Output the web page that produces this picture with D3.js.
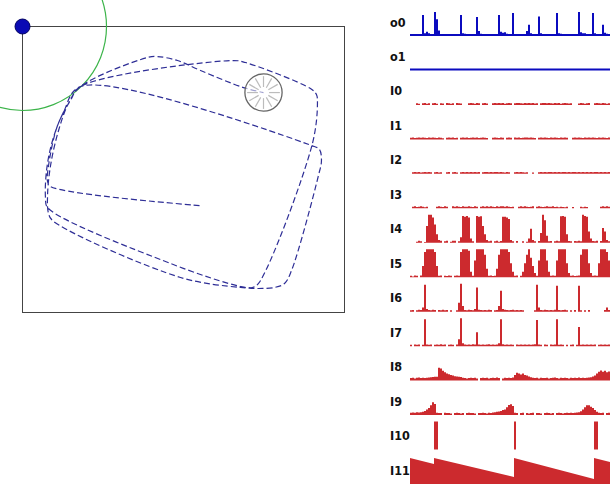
<!DOCTYPE html>
<html>
<head>
<meta charset="utf-8">
<script src="https://cdn.jsdelivr.net/npm/d3@7"></script>
<style>
  body { margin: 0; background: #fff; }
  svg { display: block; }
  .lbl { font-family: 'DejaVu Sans Condensed', 'DejaVu Sans', sans-serif; font-stretch: condensed; font-weight: bold; font-size: 12.5px; fill: #111; }
</style>
</head>
<body>
<svg id="chart" width="611" height="485"></svg>
<script>
// arena size (world units) and home radius around the corner beacon
const arenaW = 225, arenaH = 200;
const homeRadius = 58.7;
const robotRadius = 13;

// robot track, world units (x right, y up)
const track = [
  [123.7, 74.8], [19.6, 88.1], [17.5, 91.6], [18.2, 102.8], [24.5, 130.8], [33.5, 148.3], [40.5, 158.0],
  // lap 1
  [147.4, 176.2], [155.8, 174.8], [201.2, 156.6], [205.4, 152.4], [206.1, 146.9], [202.6, 118.2],
  [164.9, 20.3], [160.6, 17.5], [152.3, 18.2], [103.4, 34.3], [17.5, 73.4], [16.1, 79.7],
  [16.8, 99.3], [21.0, 120.3], [28.6, 139.9], [40.5, 158.0],
  // lap 2
  [201.9, 116.8], [207.5, 114.0], [208.9, 106.3], [206.8, 95.8], [188.0, 29.4], [183.1, 20.3],
  [176.1, 17.5], [164.9, 16.8], [152.3, 17.5], [110.4, 24.5], [21.0, 64.3], [18.2, 69.2],
  [17.5, 81.8], [19.6, 102.8], [25.2, 127.3], [32.1, 146.2], [40.5, 158.0],
  // lap 3
  [87.3, 178.3], [94.3, 179.0], [108.3, 176.2], [124.4, 169.2], [154.4, 157.3], [168.4, 153.8]
];

const rows = ["o0", "o1", "I0", "I1", "I2", "I3", "I4", "I5", "I6", "I7", "I8", "I9", "I10", "I11"];

const o0 = [
  0, 0, 0, 0, 0, 0, 7.5, 1, 1.5, 1,
  .5, .5, 8.6, 6, 2, .5, 0, 0, 0, 0,
  0, 0, 0, 0, 0, 7.5, 1, .8, .7, 0,
  0, 0, 0, 6.8, 1.8, .8, .7, .5, 0, 0,
  0, 0, 0, 0, 7.5, 1.5, 1.2, 1.3, .8, 0,
  0, 8.2, .6, 0, 0, 0, 0, 0, 1.8, 4,
  1, 0, 0, 0, 7, 1, .6, 0, 0, 0,
  0, 0, 0, 8.2, 1, .8, .5, 0, 0, 0,
  0, 0, 0, 0, 8.6, 1.3, 1, 1, .5, 0,
  0, 8.2, 1, .6, 0, 0, 4, 1.2, .8, .6
];
const o1 = [
  0, 0, 0, 0, 0, 0, 0, 0, 0, 0,
  0, 0, 0, 0, 0, 0, 0, 0, 0, 0,
  0, 0, 0, 0, 0, 0, 0, 0, 0, 0,
  0, 0, 0, 0, 0, 0, 0, 0, 0, 0,
  0, 0, 0, 0, 0, 0, 0, 0, 0, 0,
  0, 0, 0, 0, 0, 0, 0, 0, 0, 0,
  0, 0, 0, 0, 0, 0, 0, 0, 0, 0,
  0, 0, 0, 0, 0, 0, 0, 0, 0, 0,
  0, 0, 0, 0, 0, 0, 0, 0, 0, 0,
  0, 0, 0, 0, 0, 0, 0, 0, 0, 0
];
const I0 = [
  0, 0, 0, .6, .4, 0, .6, .7, .4, .6,
  0, .6, .7, .4, 0, .6, .5, 0, .7, .6,
  .4, .6, 0, .7, .6, .5, 0, 0, 0, .6,
  .7, .6, .4, .7, .6, 0, .6, .7, .5, 0,
  0, .6, .7, .6, .7, .6, .7, .4, .6, .7,
  .6, 0, .6, .7, .7, .6, .5, .7, .6, .7,
  .6, .7, .5, .6, 0, .6, .7, .7, .6, .7,
  .6, .5, .7, .6, .7, .4, .6, .7, .6, .5,
  .6, 0, 0, 0, .5, .7, .6, .4, .6, .7,
  0, 0, .6, .7, .6, .5, .7, .6, .4, .6
];
const I1 = [
  .6, .7, .5, .6, .7, .6, .7, .6, .5, .7,
  .6, .7, .6, .5, .7, .6, .4, 0, .6, .7,
  .6, .7, .5, .6, 0, .6, .7, .6, .7, .5,
  .6, .7, .6, .7, .5, .6, .7, .6, .5, 0,
  0, .6, .7, .6, .5, .7, .6, 0, .6, .7,
  .6, 0, .7, .6, .7, .5, .6, .7, .7, .6,
  .7, .6, .5, 0, .6, .7, .6, .7, .6, .5,
  .7, .6, .7, .6, .5, .7, .6, .7, .6, 0,
  0, .6, .7, .6, .7, .6, .5, .7, .6, .7,
  .6, .7, .6, .5, .7, .6, .7, .6, .5, .7
];
const I2 = [
  0, .6, .7, .6, .7, .5, .6, .7, .6, .7,
  .6, 0, .6, .7, .5, .6, 0, 0, .6, .7,
  0, .6, .7, .5, 0, .6, .7, .6, .7, .6,
  .7, .6, .7, .6, .7, 0, .6, .7, .7, .6,
  .7, .6, .7, .7, .6, .7, .6, .5, .7, .6,
  0, 0, .6, .7, .6, .7, .6, .5, .6, 0,
  0, .5, 0, 0, .6, .7, .6, .7, .6, .7,
  .7, .6, .7, .6, .7, .6, .7, .7, .6, .7,
  .6, .7, .7, .6, .7, .6, .7, .6, .7, .6,
  .7, .6, .7, .7, .6, .7, .6, .7, .6, .7
];
const I3 = [
  0, .6, .7, .5, .6, .7, .6, .4, .6, 0,
  0, 0, 0, .6, .7, .6, .5, .7, .6, 0,
  0, .7, .6, .7, .6, .5, .7, .6, .6, .7,
  .6, .5, .7, .6, 0, .6, .7, .6, .7, .6,
  .7, .6, .5, .7, .6, .7, .7, .6, .7, .6,
  .5, .6, 0, 0, .6, .7, .6, .7, .6, .5,
  .6, .7, 0, .6, .7, .6, .5, .6, .7, .6,
  .6, .7, .5, .6, .4, .6, .5, .4, .6, 0,
  0, .5, 0, 0, 0, .6, .4, .6, .5, 0,
  0, 0, 0, 0, 0, .6, .7, .6, .7, .6
];
const I4 = [
  0, 0, 0, .4, .7, .5, 0, .3, 6, 10,
  10, 9, 6.5, 3, 1, .7, 0, .5, .7, 0,
  .4, .7, .7, 0, .5, 2, 9.6, 9.3, 9.6, 9,
  1.5, .5, 0, 9.6, 9.3, 9.5, 6, 3, 1, .5,
  .7, 0, .5, .7, .4, .6, 9.3, 9.3, 9, 8.5,
  1, .5, 0, .6, 0, 0, .5, 0, .4, 1.5,
  5, 1, .5, 0, .6, 3.5, 10, 8, 2.5, .5,
  .6, 0, .5, .7, .5, 9.5, 9.6, 9.3, 3, .6,
  .5, 0, .6, .5, .7, .5, 10, 9.6, 9.3, 4,
  1.5, .6, .5, .7, 0, .6, 5.3, 4, 1, .5
];
const I5 = [
  .5, .3, .6, .5, 0, .6, 4, 9, 10, 10,
  10, 10, 9, 4, .5, .6, 0, .5, .4, .6,
  .5, 0, .5, .6, .5, 9, 10, 10, 10, 9.5,
  2, .5, 6, 10, 10, 10, 10, 8, 3, .5,
  .6, .4, .5, 3, 8, 10, 10, 10, 10, 9,
  5, 2, .5, .6, 0, .5, 2, 5, 8, 10,
  7, 4, 1.5, .5, 6, 10, 10, 10, 6, 2,
  .5, .6, .5, 6, 10, 10, 10, 10, 5, 1.5,
  .5, .6, .4, .5, .6, 8, 10, 10, 10, 5,
  1.5, .5, .6, .5, 5, 10, 10, 10, 9, 6
];
const I6 = [
  .5, .6, 0, .5, .7, .6, 1.5, 9.6, 1, .6,
  .5, .7, .6, 0, .6, .5, .7, .5, .6, 0,
  .5, 0, 0, .5, 3.2, 10, 2, .6, .5, .7,
  .6, .5, 1, 8.6, .7, .6, .5, .6, .5, .7,
  .6, 0, .5, .6, 2, 7.5, 1, .7, .6, .5,
  .6, .7, .5, .6, .5, .6, .5, 0, 0, 0,
  0, 0, .5, 9.6, 1.5, .6, .5, .7, .6, .5,
  .6, .5, .7, 9.3, .6, .5, .6, .7, .5, 0,
  .5, 0, .6, 0, 9.3, .5, 0, .5, 0, .6,
  0, 0, 0, 0, 0, 0, 0, .6, 1.5, .6
];
const I7 = [
  .5, 0, .6, .5, .6, 0, .5, 9.6, .6, .5,
  .6, 0, .5, .6, .5, .7, .5, .6, 0, .5,
  .6, .5, 0, .6, 2.5, 10, 1, .6, .5, .6,
  .5, .7, .6, 5, .6, .5, .6, .5, .6, .7,
  .5, .6, .5, .6, 1, 9.6, .7, .5, .6, .5,
  .6, .5, 0, .6, .5, .6, .5, .6, .5, .6,
  .5, .6, .7, 9.3, .6, .5, 0, .6, .5, 0,
  .6, .5, .6, 9.6, .5, .6, .5, 0, .5, 0,
  .5, .6, 0, .5, 6.8, .5, .6, .5, .6, .5,
  .6, .5, .6, 0, .5, .6, .5, .6, .5, .6
];
const I8 = [
  .9, 1, .8, 1, 1.1, .9, 1, .9, 1, 1.1,
  1.2, 1.3, 1.4, 1.4, 4.6, 4.3, 3.5, 3, 2.5, 2.3,
  2, 1.8, 1.6, 1.5, 1.4, 1.3, 1, .9, .8, .9,
  1, .9, 1, .8, 0, .9, 1, .9, 1, .8,
  .9, 1, .9, 1.1, .9, 0, .8, 1, .9, 1,
  .9, 1.1, 2, 2.8, 2.5, 2.2, 2.5, 2, 1.8, 1.5,
  1.2, 1, .9, 1, .8, 1, .9, .9, 1, .8,
  .9, 1, 1.1, .9, .8, 1, .9, 1, .9, .8,
  1, .9, 1, .9, 1.1, .9, 1, .9, 1, 1.1,
  1.2, 1.5, 1.8, 2.5, 3.2, 3.6, 3.2, 3.5, 3, 3.3
];
const I9 = [
  .8, .9, .8, 1, .9, 1, 1.2, 1.5, 2, 2.5,
  3.5, 4.6, 4, .8, .7, .7, 0, .8, .7, .7,
  .6, 0, .7, .8, .7, .6, .7, 0, .7, .8,
  .7, .7, .6, 0, .7, .7, .8, .7, .6, .8,
  .7, .9, 1, 1.2, 1.3, 1.5, 1.8, 2, 2.8, 3.6,
  3.9, 3.2, .8, .7, 0, .7, .8, 0, .7, .6,
  .7, .8, 0, .7, .7, .6, 0, .7, .8, .7,
  .6, .7, 0, .7, .8, .7, .6, .7, .8, .7,
  .8, .7, .8, .9, 1, 1.4, 2, 2.8, 3.5, 3.5,
  3, 2.5, 1.8, 1.2, .8, .7, .8, 0, .7, .8
];
const I10 = [
  0, 0, 0, 0, 0, 0, 0, 0, 0, 0,
  0, 0, 10, 10, 0, 0, 0, 0, 0, 0,
  0, 0, 0, 0, 0, 0, 0, 0, 0, 0,
  0, 0, 0, 0, 0, 0, 0, 0, 0, 0,
  0, 0, 0, 0, 0, 0, 0, 0, 0, 0,
  0, 0, 10, 0, 0, 0, 0, 0, 0, 0,
  0, 0, 0, 0, 0, 0, 0, 0, 0, 0,
  0, 0, 0, 0, 0, 0, 0, 0, 0, 0,
  0, 0, 0, 0, 0, 0, 0, 0, 0, 0,
  0, 0, 10, 10, 0, 0, 0, 0, 0, 0
];
// sawtooth: [sample, value] corners
const I11 = [[0, 9.3], [12, 7.1], [12, 9.3], [52, 2.5], [52, 9.3], [92, 1.8], [92, 9.3], [100, 7.9]];

const series = { o0, o1, I0, I1, I2, I3, I4, I5, I6, I7, I8, I9, I10, I11 };

const blue = "#0b0bbf", red = "#cc2a2e";
const svg = d3.select("#chart");

// ---- arena ----
const wx = d3.scaleLinear().domain([0, arenaW]).range([22.5, 344.5]);
const wy = d3.scaleLinear().domain([0, arenaH]).range([312.5, 26.5]);

svg.append("rect")
  .attr("x", wx(0)).attr("y", wy(arenaH))
  .attr("width", wx(arenaW) - wx(0)).attr("height", wy(0) - wy(arenaH))
  .attr("fill", "#fff").attr("stroke", "#444").attr("stroke-width", 1);

// home circle round the beacon
svg.append("circle")
  .attr("cx", wx(0)).attr("cy", wy(arenaH))
  .attr("r", wx(homeRadius) - wx(0))
  .attr("fill", "none").attr("stroke", "#3cb44a").attr("stroke-width", 1.2);

// track
const trackLine = d3.line()
  .x(d => wx(d[0])).y(d => wy(d[1]))
  .curve(d3.curveCatmullRom.alpha(0.5));

svg.append("path")
  .attr("d", trackLine(track))
  .attr("fill", "none")
  .attr("stroke", "#2e2e96")
  .attr("stroke-width", 1.2)
  .attr("stroke-dasharray", "6,3");

// robot at the last track point
const pos = track[track.length - 1];
const rr = wx(robotRadius) - wx(0);
const robot = svg.append("g").attr("transform", `translate(${wx(pos[0])},${wy(pos[1])})`);
robot.append("circle").attr("r", rr).attr("fill", "rgba(255,255,255,0.55)")
  .attr("stroke", "#666").attr("stroke-width", 1.3);
robot.selectAll("line.spoke")
  .data(d3.range(12))
  .enter()
  .append("line")
    .attr("class", "spoke")
    .attr("x1", d => Math.cos(d * Math.PI / 6) * rr * 0.3)
    .attr("y1", d => Math.sin(d * Math.PI / 6) * rr * 0.3)
    .attr("x2", d => Math.cos(d * Math.PI / 6) * rr * 0.88)
    .attr("y2", d => Math.sin(d * Math.PI / 6) * rr * 0.88)
    .attr("stroke", "#bcbcbc").attr("stroke-width", 1.2);

// beacon
svg.append("circle")
  .attr("cx", wx(0)).attr("cy", wy(arenaH)).attr("r", 7.5)
  .attr("fill", "#0a0ab4").attr("stroke", "#000060").attr("stroke-width", 1);

// ---- traces ----
const rowY = d3.scalePoint().domain(rows).range([22, 470]);
const tx = d3.scaleLinear().domain([0, 100]).range([410, 610]);

rows.forEach(name => {
  const base = rowY(name) + 14;
  const ty = d3.scaleLinear().domain([0, 10]).range([base, base - 28]);
  const col = name[0] === "o" ? blue : red;
  const vals = series[name];

  svg.append("text")
    .attr("class", "lbl")
    .attr("x", 390).attr("y", rowY(name)).attr("dy", "0.36em")
    .text(name);

  let pts, curve;
  if (name === "I11") {
    pts = vals;
    curve = d3.curveLinear;
  } else {
    pts = vals.map((v, i) => [i, v]);
    pts.push([vals.length, vals[vals.length - 1]]);
    curve = d3.curveStepAfter;
  }

  const area = d3.area()
    .x(d => tx(d[0]))
    .y0(base)
    .y1(d => ty(d[1]))
    .curve(curve);

  svg.append("path").attr("d", area(pts)).attr("fill", col);

  if (col === blue) {
    svg.append("line")
      .attr("x1", tx(0)).attr("x2", tx(100))
      .attr("y1", base - 1).attr("y2", base - 1)
      .attr("stroke", blue).attr("stroke-width", 2);
  }
});
</script>
</body>
</html>
